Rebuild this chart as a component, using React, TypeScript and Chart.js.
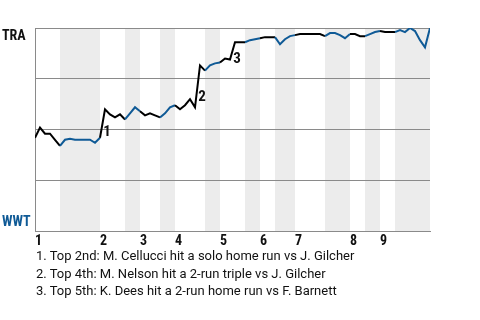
import React, { useEffect, useRef } from "react";
import { Chart, registerables } from "chart.js";

Chart.register(...registerables);

// Win probability for TRA (%) after each play, play index 0..79
const wpTRA = [
  46, 51, 48, 48, 45, 42, 45, 45.5, 45, 45,
  45, 45, 43.5, 46, 60, 57.5, 56, 57.5, 55, 58,
  61, 59, 57, 58, 57, 56, 58, 61, 62, 60,
  62, 65, 61, 81.6, 79, 81.6, 82.6, 83, 85, 84.5,
  93, 93, 93, 94, 94.5, 95, 95.5, 95.5, 95.5, 92,
  94.5, 96, 96.5, 97, 97, 97, 97, 97, 96, 97.5,
  97.5, 96.5, 95, 97, 97, 96, 96, 97, 98, 98.5,
  98, 98, 98, 99, 98, 100, 98.5, 94, 90.5, 100,
];

// Play index where each inning's top half starts / bottom half starts
const inningLabels = ["1", "2", "3", "4", "5", "6", "7", "8", "9"];
const topStarts = [0, 13, 21, 28, 37, 45, 52, 63, 69];
const bottomStarts = [5, 18, 25, 34, 42, 48, 58, 66, 72];
const lastPlay = 79;

// Key events: play index of the scoring play, label, label height (%)
const eventPlays = [14, 33, 40];
const eventLabels = ["1", "2", "3"];
const eventLabelWp = [48.5, 66, 84.5];

const notes = [
  "1. Top 2nd: M. Cellucci hit a solo home run vs J. Gilcher",
  "2. Top 4th: M. Nelson hit a 2-run triple vs J. Gilcher",
  "3. Top 5th: K. Dees hit a 2-run home run vs F. Barnett",
];

const homeTeam = "WWT";
const awayTeam = "TRA";

const FONT = '"Liberation Sans Narrow", "Roboto Condensed", Roboto, sans-serif';
const NOTE_FONT = "Roboto, sans-serif";
const BLUE = "#0f5a96";
const GRID = "#8a8a8a";
const BAND = "#ececec";

const bottomEnds = bottomStarts.map((s, i) =>
  i + 1 < topStarts.length ? topStarts[i + 1] : lastPlay
);

function inBottom(a: number, b: number) {
  return bottomStarts.some((s, i) => a >= s && b <= bottomEnds[i]);
}

export default function App() {
  const ref = useRef<HTMLCanvasElement | null>(null);

  useEffect(() => {
    if (!ref.current) return;

    const bandsPlugin = {
      id: "bands",
      beforeDraw(chart: any) {
        const { ctx, chartArea } = chart;
        const x = chart.scales.x;
        ctx.save();
        ctx.fillStyle = BAND;
        bottomStarts.forEach((s, i) => {
          const x0 = x.getPixelForValue(s);
          const x1 = x.getPixelForValue(bottomEnds[i]);
          ctx.fillRect(x0, chartArea.top, x1 - x0, chartArea.bottom - chartArea.top);
        });
        ctx.restore();
      },
    };

    const labelsPlugin = {
      id: "labels",
      afterDraw(chart: any) {
        const { ctx, chartArea } = chart;
        const x = chart.scales.x;
        const y = chart.scales.y;
        ctx.save();
        ctx.font = `bold 14px ${FONT}`;
        ctx.textBaseline = "alphabetic";
        ctx.textAlign = "left";
        ctx.fillStyle = "#111";
        ctx.fillText(awayTeam, 2, chartArea.top + 12);
        ctx.fillStyle = BLUE;
        ctx.fillText(homeTeam, 2, chartArea.bottom - 5);

        ctx.fillStyle = "#111";
        ctx.font = `bold 15px ${FONT}`;
        ctx.textAlign = "center";
        ctx.textBaseline = "middle";
        eventPlays.forEach((p, i) => {
          ctx.fillText(eventLabels[i], x.getPixelForValue(p) + 2, y.getPixelForValue(eventLabelWp[i]));
        });
        ctx.restore();
      },
    };

    const chart = new Chart(ref.current, {
      type: "line",
      data: {
        datasets: [
          {
            data: wpTRA.map((v, i) => ({ x: i, y: v })),
            borderColor: "#000",
            borderWidth: 2,
            pointRadius: 0,
            tension: 0,
            fill: false,
            segment: {
              borderColor: (ctx: any) =>
                inBottom(ctx.p0.parsed.x, ctx.p1.parsed.x) ? BLUE : "#000",
            },
          },
        ],
      },
      options: {
        animation: false,
        responsive: false,
        maintainAspectRatio: false,
        layout: { padding: { left: 35, right: 50, top: 28, bottom: 1 } },
        plugins: {
          legend: { display: false },
          tooltip: { enabled: false },
        },
        scales: {
          x: {
            type: "linear",
            min: 0,
            max: lastPlay,
            grid: { display: false, drawTicks: false },
            border: { display: true, color: GRID, width: 1 },
            afterBuildTicks: (axis: any) => {
              axis.ticks = topStarts.map((v) => ({ value: v }));
            },
            ticks: {
              autoSkip: false,
              maxRotation: 0,
              align: "start",
              padding: 2,
              color: "#111",
              font: { family: FONT, size: 14, weight: "bold" },
              callback: (v: any) => {
                const i = topStarts.indexOf(Number(v));
                return i >= 0 ? inningLabels[i] : "";
              },
            },
          },
          y: {
            min: 0,
            max: 100,
            grid: { color: GRID, lineWidth: 1, drawTicks: false },
            border: { display: true, color: GRID, width: 1 },
            ticks: { display: false, stepSize: 25 },
          },
        },
      },
      plugins: [bandsPlugin, labelsPlugin],
    });
    return () => chart.destroy();
  }, []);

  return (
    <div style={{ position: "fixed", left: 0, top: 0, width: 480, height: 320, background: "#fff" }}>
      <canvas ref={ref} width={480} height={253} style={{ position: "absolute", left: 0, top: 0, width: 480, height: 253 }} />
      <div
        style={{
          position: "absolute",
          left: 36,
          top: 247,
          fontFamily: NOTE_FONT,
          fontSize: 13,
          lineHeight: "17.5px",
          color: "#111",
          whiteSpace: "nowrap",
        }}
      >
        {notes.map((n, i) => (
          <div key={i}>{n}</div>
        ))}
      </div>
    </div>
  );
}
